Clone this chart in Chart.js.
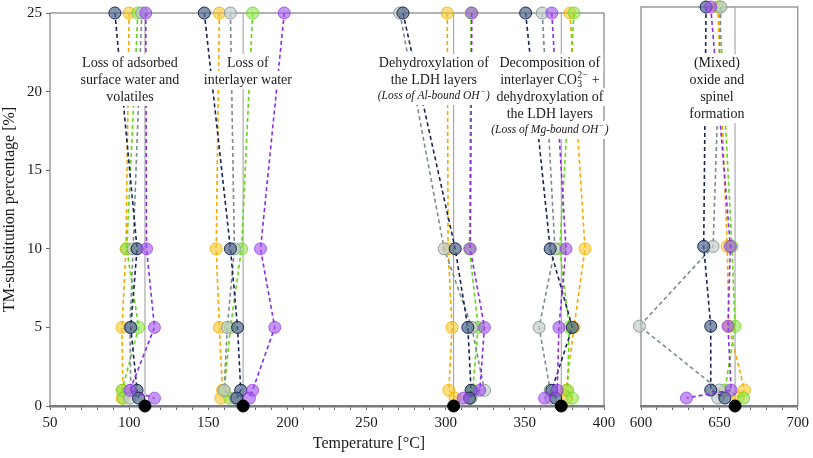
<!DOCTYPE html>
<html>
<head>
<meta charset="utf-8">
<script src="https://cdn.jsdelivr.net/npm/chart.js@4"></script>
<style>
  html, body { margin: 0; padding: 0; background: #fff; }
  #wrap { position: relative; width: 813px; height: 458px; }
  #left { position: absolute; left: 0; top: 0; }
  #right { position: absolute; left: 620px; top: 0; }
</style>
</head>
<body>
<div id="wrap">
  <canvas id="left" width="620" height="458"></canvas>
  <canvas id="right" width="193" height="458"></canvas>
</div>
<script>
// TM-substitution levels (y) shared by every step
const tmLevels = [25, 10, 5, 1, 0.5];

// Peak temperatures per decomposition step, one row per step, values in tmLevels order
const navyTemps = [
  [91, 105, 101, 105, 106],
  [147.5, 164, 168.5, 170.5, 168],
  [273, 306, 314, 316, 315],
  [350.5, 366, 380, 367, 369.5],
  [641.5, 640, 644.5, 644.5, 653.5]
];
const orangeTemps = [
  [100, 98, 95.5, 96, 95.5],
  [157, 155, 157, 159, 158],
  [301, 301.5, 304, 302, 306],
  [378.5, 388, 381, 376, 376.5],
  [649, 655, 656, 666, 662]
];
const greenTemps = [
  [105.5, 98.5, 106, 95.5, 96.5],
  [178, 171, 164, 160, 163.5],
  [316, 315, 320.5, 317, 315.5],
  [381, 372, 378, 377, 380],
  [650, 658, 660, 653.5, 665.5]
];
const greyTemps = [
  [108, 102.5, 100.5, 101, 100.5],
  [164, 166.5, 162, 160, 167],
  [271, 299, 316.5, 324.5, 316],
  [361, 369, 359, 366, 366.5],
  [651, 646, 599, 650, 649]
];
const purpleTemps = [
  [110.5, 111, 116, 100.5, 116],
  [198, 183, 192, 178, 176],
  [316.5, 315.5, 324.5, 321.5, 311],
  [367, 376, 371.5, 370.5, 362.5],
  [644.5, 657, 655.5, 657.5, 629]
];

// Mean step temperature of the reference material (black dots)
const refTemps = [110, 172, 305, 373, 660];

const series = [
  { temps: purpleTemps, line: '#8b2be8', fill: 'rgba(160,80,240,0.6)', edge: 'rgba(140,50,230,0.7)' },
  { temps: navyTemps, line: '#1c2452', fill: 'rgba(80,105,140,0.7)', edge: '#1c2452' },
  { temps: greyTemps, line: '#7c8c8c', fill: 'rgba(195,205,205,0.7)', edge: '#8d9b9b' },
  { temps: greenTemps, line: '#62d812', fill: 'rgba(140,230,70,0.6)', edge: 'rgba(110,210,40,0.8)' },
  { temps: orangeTemps, line: '#f5a800', fill: 'rgba(252,200,40,0.6)', edge: 'rgba(240,175,0,0.8)' }
];

const serif = 'Liberation Serif, "Times New Roman", serif';

function buildDatasets(stepIdx) {
  const sets = [];
  sets.push({
    data: stepIdx.map(i => ({ x: refTemps[i], y: 0 })),
    showLine: false, pointRadius: 6, pointBackgroundColor: '#000', pointBorderColor: '#000'
  });
  series.forEach(s => {
    stepIdx.forEach(i => {
      sets.push({
        data: tmLevels.map((y, k) => ({ x: s.temps[i][k], y: y })),
        borderColor: s.line, borderWidth: 1.6, borderDash: [4, 3],
        pointRadius: 6, pointBackgroundColor: s.fill, pointBorderColor: s.edge, pointBorderWidth: 1
      });
    });
  });
  stepIdx.forEach(i => {
    sets.push({
      data: [{ x: refTemps[i], y: 0 }, { x: refTemps[i], y: 25 }],
      borderColor: '#9a9a9a', borderWidth: 1, pointRadius: 0
    });
  });
  sets.forEach(d => { d.clip = false; });
  return sets;
}

// Draw a line made of text segments, with optional sub/superscript blocks, on a white box
function drawRich(ctx, parts, cx, y, size, italic) {
  const f = (s) => (italic ? 'italic ' : '') + s + 'px ' + serif;
  const widthOf = (p) => {
    if (typeof p === 'string') { ctx.font = f(size); return ctx.measureText(p).width; }
    ctx.font = f(size * 0.7);
    return Math.max(ctx.measureText(p.sub || '').width, ctx.measureText(p.sup || '').width) + 1;
  };
  const total = parts.reduce((t, p) => t + widthOf(p), 0);
  let x = cx - total / 2;
  ctx.fillStyle = '#fff';
  ctx.fillRect(x - 3, y - 9, total + 6, 18);
  ctx.fillStyle = '#1a1a1a';
  ctx.textAlign = 'left';
  ctx.textBaseline = 'middle';
  parts.forEach(p => {
    const w = widthOf(p);
    if (typeof p === 'string') {
      ctx.font = f(size); ctx.fillText(p, x, y);
    } else {
      ctx.font = f(size * 0.7);
      if (p.sub) ctx.fillText(p.sub, x + 0.5, y + size * 0.3);
      if (p.sup) ctx.fillText(p.sup, x + 0.5, y - size * 0.35);
    }
    x += w;
  });
}

const leftNotes = [
  { x: 100.5, lines: [['Loss of adsorbed'], ['surface water and'], ['volatiles']] },
  { x: 175, lines: [['Loss of'], ['interlayer water']] },
  { x: 292.5, lines: [['Dehydroxylation of'], ['the LDH layers'], { i: true, p: ['(Loss of Al-bound ', 'OH', { sup: '−' }, ')'] }] },
  { x: 365.8, lines: [['Decomposition of'], ['interlayer CO', { sub: '3', sup: '2−' }, ' +'], ['dehydroxylation of'], ['the LDH layers'], { i: true, p: ['(Loss of Mg-bound ', 'OH', { sup: '−' }, ')'] }] }
];
const rightNotes = [
  { x: 648.4, lines: [['(Mixed)'], ['oxide and'], ['spinel'], ['formation']] }
];

function notesPlugin(notes, drawXTitle) {
  return {
    id: 'notes',
    beforeDatasetsDraw(chart) {
      const a = chart.chartArea, ctx = chart.ctx;
      ctx.save();
      ctx.strokeStyle = '#808080';
      ctx.lineWidth = 1.2;
      ctx.strokeRect(a.left, a.top, a.right - a.left, a.bottom - a.top);
      ctx.restore();
    },
    afterDraw(chart) {
      const ctx = chart.ctx, xs = chart.scales.x;
      ctx.save();
      notes.forEach(n => {
        const cx = xs.getPixelForValue(n.x);
        n.lines.forEach((ln, k) => {
          const y = 63 + k * 17;
          if (Array.isArray(ln)) drawRich(ctx, ln, cx, y, 14, false);
          else drawRich(ctx, ln.p, cx, y - 1, 11.5, true);
        });
      });
      if (drawXTitle) {
        ctx.fillStyle = '#1a1a1a';
        ctx.font = '16px ' + serif;
        ctx.textAlign = 'center';
        ctx.textBaseline = 'middle';
        ctx.fillText('Temperature [°C]', 369, 444);
      }
      ctx.restore();
    }
  };
}

function makeChart(id, stepIdx, xMin, xMax, yWidth, showY, padRight, notes, drawXTitle) {
  return new Chart(document.getElementById(id), {
    type: 'line',
    data: { datasets: buildDatasets(stepIdx) },
    options: {
      responsive: false,
      animation: false,
      layout: { padding: { top: 5, right: padRight, left: 0, bottom: 0 } },
      plugins: { legend: { display: false }, tooltip: { enabled: false } },
      scales: {
        x: {
          type: 'linear', min: xMin, max: xMax,
          afterFit: s => { s.height = 52; },
          border: { color: '#6d7784', width: 2.5 },
          grid: { drawOnChartArea: false, tickLength: 4, color: '#666' },
          ticks: {
            stepSize: 10, autoSkip: false, maxRotation: 0, padding: 4,
            color: '#1a1a1a', font: { family: serif, size: 15 },
            callback: v => (v % 50 === 0 ? v : '')
          }
        },
        y: {
          type: 'linear', min: 0, max: 25,
          afterFit: s => { s.width = yWidth; },
          border: { display: false },
          grid: { drawOnChartArea: false, display: showY, tickLength: 4, color: '#666' },
          ticks: { display: showY, stepSize: 5, color: '#1a1a1a', font: { family: serif, size: 15 }, padding: 4 },
          title: { display: showY, text: 'TM-substitution percentage [%]', color: '#1a1a1a', font: { family: serif, size: 16 }, padding: { top: 0, bottom: 2 } }
        }
      }
    },
    plugins: [notesPlugin(notes, drawXTitle)]
  });
}

document.addEventListener('DOMContentLoaded', function() {
  makeChart('left', [0, 1, 2, 3], 50, 400, 50, true, 16, leftNotes, true);
  makeChart('right', [4], 600, 700, 21, false, 13, rightNotes, false);
});
</script>
</body>
</html>
